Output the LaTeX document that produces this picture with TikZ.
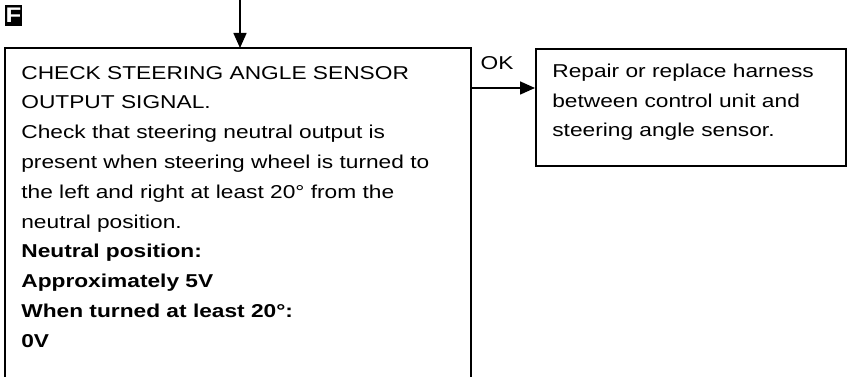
\documentclass[tikz,border=0pt]{standalone}
\usepackage{fontspec}
\setmainfont{Liberation Sans}[FakeStretch=1.22]
\usetikzlibrary{arrows.meta}

\tikzset{
  box/.style={draw, line width=1.1pt},
  arr/.style={line width=0.9pt, -{Triangle[length=0.3cm,width=0.26cm]}},
  txt/.style={inner sep=0pt, align=left, font=\fontsize{10.6}{16.96}\selectfont},
}

\begin{document}
\begin{tikzpicture}[x=0.02cm,y=-0.02cm]
  \useasboundingbox (0,0) rectangle (847,377);
  % tag
  \node[fill=black, text=white, inner sep=0pt, minimum width=0.34cm, minimum height=0.42cm,
        font=\fontsize{12}{12}\selectfont\bfseries] (tag) at (13.5,15.5) {F};
  % check box (open at the bottom)
  \draw[box] (5,377) |- (471,48) -- (471,377);
  \coordinate (chkN) at (240,48);
  \coordinate (chkE) at (471,88);
  \coordinate (topIn) at (240,0);
  \node[txt, anchor=base west] (chk) at (21,347.2) {CHECK STEERING ANGLE SENSOR\\
    OUTPUT SIGNAL.\\
    Check that steering neutral output is\\
    present when steering wheel is turned to\\
    the left and right at least 20° from the\\
    neutral position.\\
    \textbf{Neutral position:}\\
    \textbf{Approximately 5V}\\
    \textbf{When turned at least 20°:}\\
    \textbf{0V}};
  % repair box
  \node[box, anchor=north west, minimum width=6.2cm, minimum height=2.34cm] (repair) at (535,48) {};
  \node[txt, anchor=base west] (repairTxt) at (552,137) {Repair or replace harness\\
    between control unit and\\
    steering angle sensor.};
  % arrows
  \draw[arr] (topIn) -- (chkN);
  \draw[arr] (chkE) -- (chkE -| repair.west);
  \node[txt, anchor=base] (ok) at (497,70) {OK};
\end{tikzpicture}
\end{document}
